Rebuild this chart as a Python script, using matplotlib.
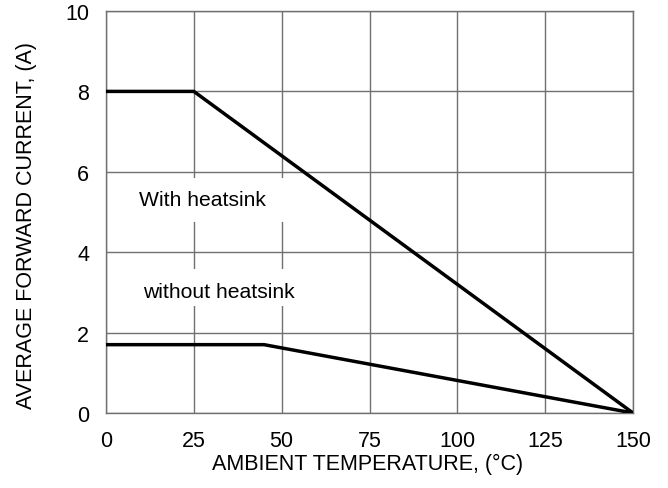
import matplotlib
matplotlib.use("Agg")
import matplotlib.pyplot as plt
from matplotlib.patches import Rectangle

plt.rcParams['font.family'] = ['Liberation Sans', 'DejaVu Sans']

# Data
temp_with = [0, 25, 150]
current_with = [8, 8, 0]
temp_without = [0, 45, 150]
current_without = [1.7, 1.7, 0]
x_ticks = [0, 25, 50, 75, 100, 125, 150]
y_ticks = [0, 2, 4, 6, 8, 10]

fig = plt.figure(figsize=(6.68, 4.89), dpi=100)
ax = fig.add_axes([106/668, 75/489, 527/668, 402/489])

ax.set_xlim(0, 150)
ax.set_ylim(0, 10)
ax.set_xticks(x_ticks)
ax.set_yticks(y_ticks)
ax.grid(True, color='#707070', linewidth=1.0)
ax.set_axisbelow(True)
for s in ax.spines.values():
    s.set_color('#707070')
    s.set_linewidth(1.0)
ax.tick_params(length=0, labelsize=15.5)
ax.tick_params(axis='y', pad=12)
ax.tick_params(axis='x', pad=12)

# white backgrounds behind labels
ax.add_patch(Rectangle((6, 4.75), 46, 1.1, facecolor='white', edgecolor='none', zorder=1.5))
ax.add_patch(Rectangle((6, 2.66), 50, 0.92, facecolor='white', edgecolor='none', zorder=1.5))

ax.plot(temp_with, current_with, color='black', linewidth=2.5, zorder=3, solid_joinstyle='miter')
ax.plot(temp_without, current_without, color='black', linewidth=2.5, zorder=3, solid_joinstyle='miter')

ax.text(9.4, 5.3, 'With heatsink', fontsize=15.2, va='center', ha='left', zorder=4)
ax.text(10.5, 3.03, 'without heatsink', fontsize=15.2, va='center', ha='left', zorder=4)

ax.set_xlabel('AMBIENT TEMPERATURE, (°C)', fontsize=15.5)
ax.set_ylabel('AVERAGE FORWARD CURRENT, (A)', fontsize=15.5)
ax.xaxis.set_label_coords(0.496, -0.1)
ax.yaxis.set_label_coords(-0.131, 0.468)

fig.savefig('out.png', dpi=100)
